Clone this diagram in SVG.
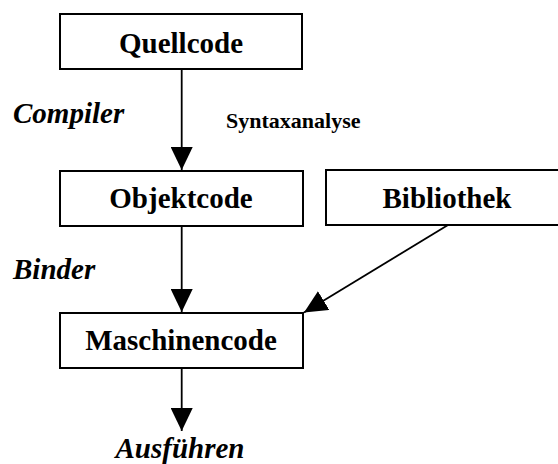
<svg xmlns="http://www.w3.org/2000/svg" width="558" height="464" viewBox="0 0 558 464">
<style>
.box{fill:#fff;stroke:#000;stroke-width:2}
.lbl{font-family:"Liberation Serif","Times New Roman","DejaVu Serif",serif;font-weight:bold;font-size:29px;fill:#000}
.it{font-style:italic}
.sm{font-size:22px}
.edge{stroke:#000;stroke-width:1.8;fill:none;marker-end:url(#ah)}
</style>
<defs>
<marker id="ah" markerUnits="userSpaceOnUse" markerWidth="23" markerHeight="22" viewBox="0 0 23 22" refX="23" refY="11" orient="auto">
<path d="M0,0 L23,11 L0,22 z" fill="#000"/>
</marker>
</defs>
<g id="connectors">
<line class="edge" x1="181.7" y1="69" x2="181.7" y2="170"/>
<line class="edge" x1="181.7" y1="226" x2="181.7" y2="312"/>
<line class="edge" x1="181.7" y1="368" x2="181.7" y2="431"/>
<line class="edge" x1="448" y1="225" x2="304" y2="312.5"/>
</g>
<g id="quellcode">
<rect class="box" x="60" y="14" width="242" height="55"/>
<text class="lbl" x="181" y="53" text-anchor="middle">Quellcode</text>
</g>
<g id="objektcode">
<rect class="box" x="60" y="171" width="243" height="55"/>
<text class="lbl" x="181" y="208" text-anchor="middle">Objektcode</text>
</g>
<g id="bibliothek">
<rect class="box" x="326" y="170" width="250" height="55"/>
<text class="lbl" x="447" y="208" text-anchor="middle">Bibliothek</text>
</g>
<g id="maschinencode">
<rect class="box" x="60" y="313" width="243" height="55"/>
<text class="lbl" x="181" y="350" text-anchor="middle">Maschinencode</text>
</g>
<g id="labels">
<text class="lbl it" x="13" y="123">Compiler</text>
<text class="lbl sm" x="226" y="128">Syntaxanalyse</text>
<text class="lbl it" x="13" y="279">Binder</text>
<text class="lbl it" x="180" y="458" text-anchor="middle">Ausführen</text>
</g>
</svg>
